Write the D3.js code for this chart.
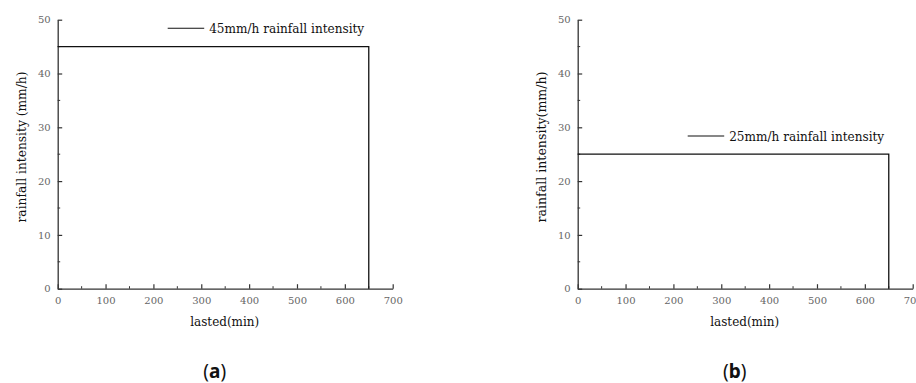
<!DOCTYPE html>
<html><head><meta charset="utf-8">
<script src="https://cdn.jsdelivr.net/npm/d3@7"></script>
<style>body{margin:0;background:#fff}svg{display:block}</style>
</head><body>
<svg id="c" width="916" height="383"></svg>
<script>
const xTicks = [0,100,200,300,400,500,600,700];
const yTicks = [0,10,20,30,40,50];
const seriesA = {time:[0,650,650], intensity:[45,45,0]};
const seriesB = {time:[0,650,650], intensity:[25,25,0]};
const legendA = "45mm/h rainfall intensity";
const legendB = "25mm/h rainfall intensity";
const yLabelA = "rainfall intensity (mm/h)";
const yLabelB = "rainfall intensity(mm/h)";
const xLabel = "lasted(min)";
const panelLabels = ["a","b"];

const svg = d3.select("#c");
const serif = "'DejaVu Serif','Liberation Serif',serif";

function panel(ox, series, legend, yLabel, pl, legendY, legendX){
  const x = d3.scaleLinear().domain([0,700]).range([ox, ox+335]);
  const y = d3.scaleLinear().domain([0,50]).range([288.7, 19.7]);
  const g = svg.append("g");
  const minorX = d3.range(50,700,100);
  const minorY = d3.range(5,50,10);
  g.selectAll(".mx").data(minorX).enter().append("line")
    .attr("x1",d=>x(d)).attr("x2",d=>x(d)).attr("y1",y(0)).attr("y2",y(0)-2.5)
    .attr("stroke","#333").attr("stroke-width",1);
  g.selectAll(".my").data(minorY).enter().append("line")
    .attr("y1",d=>y(d)).attr("y2",d=>y(d)).attr("x1",x(0)).attr("x2",x(0)+2.5)
    .attr("stroke","#333").attr("stroke-width",1);
  const xa = g.append("g").attr("transform",`translate(0,${y(0)})`)
    .call(d3.axisBottom(x).tickValues(xTicks).tickSizeInner(-4.5).tickSizeOuter(0).tickPadding(8));
  const ya = g.append("g").attr("transform",`translate(${x(0)},0)`)
    .call(d3.axisLeft(y).tickValues(yTicks).tickSizeInner(-4.5).tickSizeOuter(0).tickPadding(7));
  [xa,ya].forEach(a=>{
    a.select(".domain").attr("stroke","#333").attr("stroke-width",1.3);
    a.selectAll(".tick line").attr("stroke","#333").attr("stroke-width",1.2);
    a.selectAll(".tick text").attr("fill","#666").style("font-family",serif).style("font-size","10px");
  });
  const line = d3.line().x((d,i)=>x(series.time[i])).y((d,i)=>y(series.intensity[i]));
  g.append("path").attr("d",line(series.time)).attr("fill","none").attr("stroke","#111").attr("stroke-width",1.3);
  // legend
  g.append("line").attr("x1",legendX).attr("x2",legendX+36.5).attr("y1",legendY).attr("y2",legendY)
    .attr("stroke","#111").attr("stroke-width",1.1);
  g.append("text").attr("x",legendX+41.5).attr("y",legendY+4.5).text(legend)
    .attr("textLength",155).attr("lengthAdjust","spacingAndGlyphs")
    .style("font-family",serif).style("font-size","12.5px").attr("fill","#111");
  // axis labels
  g.append("text").attr("transform",`translate(${ox-31.5},147) rotate(-90)`)
    .attr("text-anchor","middle").text(yLabel)
    .attr("textLength",151).attr("lengthAdjust","spacingAndGlyphs")
    .style("font-family",serif).style("font-size","12.5px").attr("fill","#111");
  g.append("text").attr("x",ox+167).attr("y",326).attr("text-anchor","middle").text(xLabel)
    .attr("textLength",69).attr("lengthAdjust","spacingAndGlyphs")
    .style("font-family",serif).style("font-size","13px").attr("fill","#111");
  const t = g.append("text").attr("x",ox+157).attr("y",378).attr("text-anchor","middle")
    .style("font-family","'Noto Sans','DejaVu Sans',sans-serif").style("font-size","19px").attr("fill","#111");
  t.append("tspan").text("(");
  t.append("tspan").text(pl).style("font-weight","bold");
  t.append("tspan").text(")");
}
panel(57.7, seriesA, legendA, yLabelA, panelLabels[0], 28.3, 167.7);
panel(577.7, seriesB, legendB, yLabelB, panelLabels[1], 136, 687.7);
</script>
</body></html>
